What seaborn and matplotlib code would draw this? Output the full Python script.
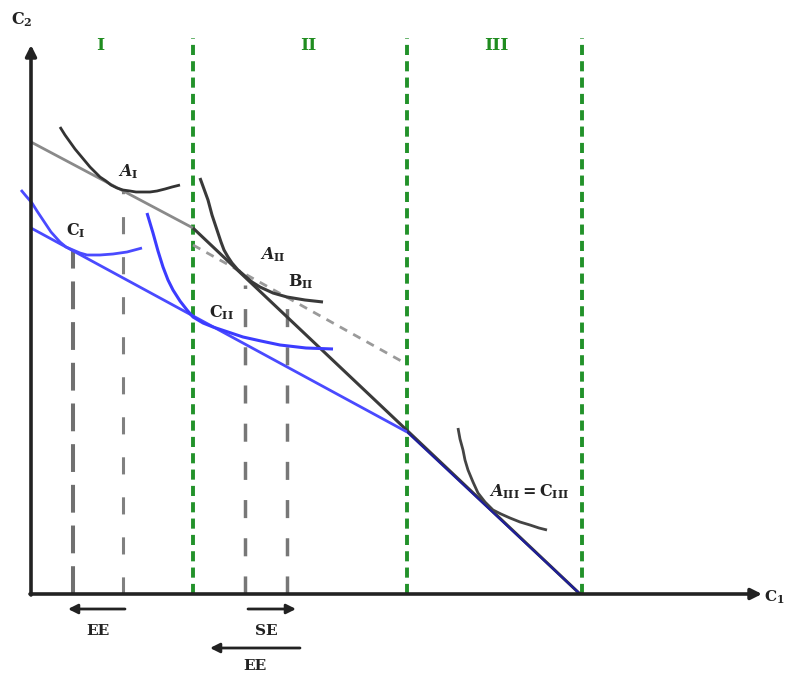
import matplotlib
matplotlib.use("Agg")
import matplotlib.pyplot as plt
import seaborn as sns
import pandas as pd

sns.set_theme(style="white")
plt.rcParams['font.family'] = ['DejaVu Serif']
plt.rcParams['mathtext.fontset'] = 'custom'
plt.rcParams['mathtext.rm'] = 'DejaVu Serif'
plt.rcParams['mathtext.it'] = 'DejaVu Serif:italic:bold'
plt.rcParams['mathtext.bf'] = 'DejaVu Serif:bold'

# ---- data (schematic units: origin at axes corner) ----
budget_gray_x = [0, 162]
budget_gray_y = [452, 366]
budget_comp_x = [162, 372]
budget_comp_y = [349, 232]
budget_black_x = [162, 549]
budget_black_y = [366, 0]
budget_blue_x = [0, 376]
budget_blue_y = [366, 162]
budget_navy_x = [376, 549]
budget_navy_y = [162, 0]

ic_AI_x = [29, 34, 39, 44, 49, 54, 59, 64, 69, 75, 80, 86, 92, 99, 105, 112, 119, 126, 134, 141, 149]
ic_AI_y = [467, 459, 452, 445, 439, 433, 427, 422, 417, 413, 409, 406, 404, 403, 402, 402, 402, 403, 405, 407, 409]
ic_CI_x = [-10, -5, 1, 6, 12, 20, 29, 35, 42, 49, 56, 69, 82, 96, 111]
ic_CI_y = [404, 398, 391, 383, 374, 362, 352, 347, 344, 341, 339, 339, 340, 342, 346]
ic_CII_x = [116, 119, 122, 127, 132, 137, 142, 149, 156, 162, 172, 182, 197, 212, 230, 249, 275, 302]
ic_CII_y = [381, 371, 361, 343, 327, 314, 304, 293, 284, 277, 271, 267, 262, 257, 253, 249, 246, 245]
ic_AII_x = [169, 173, 177, 181, 186, 190, 193, 197, 201, 207, 214, 221, 229, 242, 256, 274, 292]
ic_AII_y = [416, 405, 394, 379, 364, 352, 344, 337, 331, 324, 318, 312, 307, 301, 297, 294, 292]
ic_AIII_x = [427, 429, 432, 434, 437, 442, 447, 454, 462, 470, 479, 489, 499, 508, 516]
ic_AIII_y = [166, 155, 144, 134, 124, 112, 101, 92, 84, 80, 76, 72, 69, 66, 64]

region_x = [162, 376, 551]
region_labels = ["I", "II", "III"]
region_label_x = [69, 277, 465]
drop_x = [42, 92, 214, 256]
drop_top = [344, 404, 309, 297]
drop_style = ['long', 'short', 'mid', 'mid']

point_labels = [r"$\mathit{A}_{\mathbf{I}}$", r"$\mathbf{C_{I}}$", r"$\mathit{A}_{\mathbf{II}}$",
                r"$\mathbf{B_{II}}$", r"$\mathbf{C_{II}}$", r"$\mathit{A}_{\mathbf{III}}\mathbf{=C_{III}}$"]
point_label_x = [97, 45, 242, 270, 190, 498]
point_label_y = [422, 363, 339, 312, 281, 102]

effect_labels = ["EE", "SE", "EE"]
effect_label_x = [67, 235, 224]
effect_label_y = [-37, -37, -72]
effect_from = [94, 217, 269]
effect_to = [37, 265, 179]
effect_y = [-15, -15, -54]

fig = plt.figure(figsize=(7.85, 6.73), dpi=100)
ax = fig.add_axes([0, 0, 1, 1])
ax.set_xlim(-31, 754)
ax.set_ylim(-79, 594)
ax.axis('off')

def line(x, y, color, lw, ls='-', z=3):
    df = pd.DataFrame({'x': x, 'y': y})
    sns.lineplot(data=df, x='x', y='y', ax=ax, color=color, lw=lw, linestyle=ls,
                 sort=False, estimator=None, zorder=z, solid_capstyle='butt',
                 solid_joinstyle='round')

# green region boundaries
for gx in region_x:
    ax.vlines(gx, 0, 556, colors='#22922a', lw=2.8, linestyles=(0, (2.6, 1.6)), zorder=2)
for lx, lab in zip(region_label_x, region_labels):
    ax.text(lx, 549, lab, color='#1f8c1f', fontsize=12.5, fontweight='bold',
            ha='center', va='center')

# vertical drop lines
styles = {'long': ('#707070', 2.9, (0, (6.9, 3.2))),
          'short': ('#808080', 2.2, (0, (5.6, 7.5))),
          'mid': ('#777777', 2.5, (0, (5.2, 5.8)))}
for dx, dt, st in zip(drop_x, drop_top, drop_style):
    c, w, pat = styles[st]
    ax.vlines(dx, 0, dt, colors=c, lw=w, linestyles=pat, zorder=2)

# budget lines
line(budget_gray_x, budget_gray_y, '#8a8a8a', 2.0)
line(budget_comp_x, budget_comp_y, '#9a9a9a', 2.0, ls=(0, (3, 2.5)))
line(budget_black_x, budget_black_y, '#3a3a3a', 2.2)
line(budget_blue_x, budget_blue_y, '#4a4aff', 2.0)
line(budget_navy_x, budget_navy_y, '#1e1e9a', 1.6, z=4)

# indifference curves
line(ic_AI_x, ic_AI_y, '#333333', 2.0)
line(ic_CI_x, ic_CI_y, '#4a4aff', 2.0)
line(ic_CII_x, ic_CII_y, '#3c3cff', 2.2)
line(ic_AII_x, ic_AII_y, '#3a3a3a', 2.2)
line(ic_AIII_x, ic_AIII_y, '#444444', 2.0)

for t, tx, ty in zip(point_labels, point_label_x, point_label_y):
    ax.text(tx, ty, t, color='#222222', fontsize=11.5, ha='center', va='center', zorder=6)

# axes with arrows
ax.annotate('', xy=(0, 549), xytext=(0, -1),
            arrowprops=dict(arrowstyle='-|>', lw=2.6, color='#222222', mutation_scale=16,
                            shrinkA=0, shrinkB=0), zorder=5)
ax.annotate('', xy=(731, 0), xytext=(-1, 0),
            arrowprops=dict(arrowstyle='-|>', lw=2.6, color='#222222', mutation_scale=16,
                            shrinkA=0, shrinkB=0), zorder=5)
ax.text(-9, 574, r"$\mathbf{C_2}$", fontsize=11.5, color='#222222', ha='center', va='center')
ax.text(733, -3, r"$\mathbf{C_1}$", fontsize=11, color='#222222', ha='left', va='center')

# effect arrows
for f, t_, yy in zip(effect_from, effect_to, effect_y):
    ax.annotate('', xy=(t_, yy), xytext=(f, yy),
                arrowprops=dict(arrowstyle='-|>', lw=2.0, color='#222222', mutation_scale=14,
                                shrinkA=0, shrinkB=0))
for lab, lx, ly in zip(effect_labels, effect_label_x, effect_label_y):
    ax.text(lx, ly, lab, fontsize=11, fontweight='bold', color='#222222', ha='center', va='center')

fig.savefig('out.png', dpi=100)
